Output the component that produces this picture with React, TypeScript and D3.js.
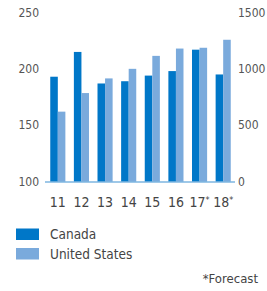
import React, { useEffect, useRef } from 'react';
import * as d3 from 'd3';

const years = ['11', '12', '13', '14', '15', '16', '17*', '18*'];
const canada = [193, 215, 187, 189, 194, 198, 217, 195];
const unitedStates = [620, 785, 915, 1000, 1115, 1180, 1187, 1258];
const leftTicks = [100, 150, 200, 250];
const rightTicks = [0, 500, 1000, 1500];
const seriesNames = ['Canada', 'United States'];
const colors = ['#0077c8', '#7aaadc'];

const FONT = '"DejaVu Sans Condensed", "DejaVu Sans", sans-serif';

export default function App() {
  const svgRef = useRef<SVGSVGElement>(null);

  useEffect(() => {
    if (!svgRef.current) return;
    const svg = d3.select(svgRef.current);
    svg.selectAll('*').remove();

    const left = 46;
    const right = 235;
    const top = 12.5;
    const bottom = 181.5;

    const x = d3.scaleBand<string>().domain(years).range([left, right]).paddingInner(0.36).paddingOuter(0.18);
    const sub = d3.scaleBand<string>().domain(seriesNames).range([0, x.bandwidth()]);
    const yL = d3.scaleLinear().domain([100, 250]).range([bottom, top]);
    const yR = d3.scaleLinear().domain([0, 1500]).range([bottom, top]);

    const g = svg.append('g')
      .attr('font-family', FONT)
      .style('font-stretch', 'condensed');

    // bars
    years.forEach((yr, i) => {
      g.append('rect')
        .attr('x', x(yr)! + sub('Canada')!)
        .attr('y', yL(canada[i]))
        .attr('width', sub.bandwidth())
        .attr('height', bottom - yL(canada[i]))
        .attr('fill', colors[0]);
      g.append('rect')
        .attr('x', x(yr)! + sub('United States')!)
        .attr('y', yR(unitedStates[i]))
        .attr('width', sub.bandwidth())
        .attr('height', bottom - yR(unitedStates[i]))
        .attr('fill', colors[1]);
    });

    // baseline
    g.append('line')
      .attr('x1', left - 1).attr('x2', right)
      .attr('y1', bottom + 0.5).attr('y2', bottom + 0.5)
      .attr('stroke', '#3f92d2').attr('stroke-width', 1.2);

    // left axis labels
    g.selectAll('.yl')
      .data(leftTicks)
      .enter().append('text')
      .attr('x', 39)
      .attr('y', d => yL(d))
      .attr('dy', '0.35em')
      .attr('text-anchor', 'end')
      .attr('font-size', 12)
      .attr('fill', '#555')
      .text(d => d);

    // right axis labels
    g.selectAll('.yr')
      .data(rightTicks)
      .enter().append('text')
      .attr('x', 238)
      .attr('y', d => yR(d))
      .attr('dy', '0.35em')
      .attr('text-anchor', 'start')
      .attr('font-size', 12)
      .attr('fill', '#555')
      .text(d => d);

    // x labels, with a small raised asterisk for forecast years
    const xl = g.selectAll('.xl')
      .data(years)
      .enter().append('text')
      .attr('x', d => x(d)! + x.bandwidth() / 2)
      .attr('y', 207)
      .attr('text-anchor', 'middle')
      .attr('font-size', 14)
      .attr('fill', '#444');
    xl.append('tspan').text(d => d.replace('*', ''));
    xl.filter(d => d.includes('*'))
      .append('tspan')
      .attr('font-size', 9)
      .attr('dy', -4)
      .text('*');

    // legend
    seriesNames.forEach((name, i) => {
      const ly = 228.5 + i * 19.5;
      g.append('rect')
        .attr('x', 16).attr('y', ly)
        .attr('width', 23).attr('height', 11.5)
        .attr('fill', colors[i]);
      g.append('text')
        .attr('x', 50).attr('y', ly + 10.5)
        .attr('font-size', 13.5)
        .attr('fill', '#444')
        .text(name);
    });

    g.append('text')
      .attr('x', 258).attr('y', 283)
      .attr('text-anchor', 'end')
      .attr('font-size', 13)
      .attr('fill', '#444')
      .text('*Forecast');
  }, []);

  return (
    <div style={{ position: 'absolute', left: 0, top: 0, width: 267, height: 291, background: '#fff' }}>
      <svg ref={svgRef} width={267} height={291} style={{ display: 'block' }}></svg>
    </div>
  );
}
